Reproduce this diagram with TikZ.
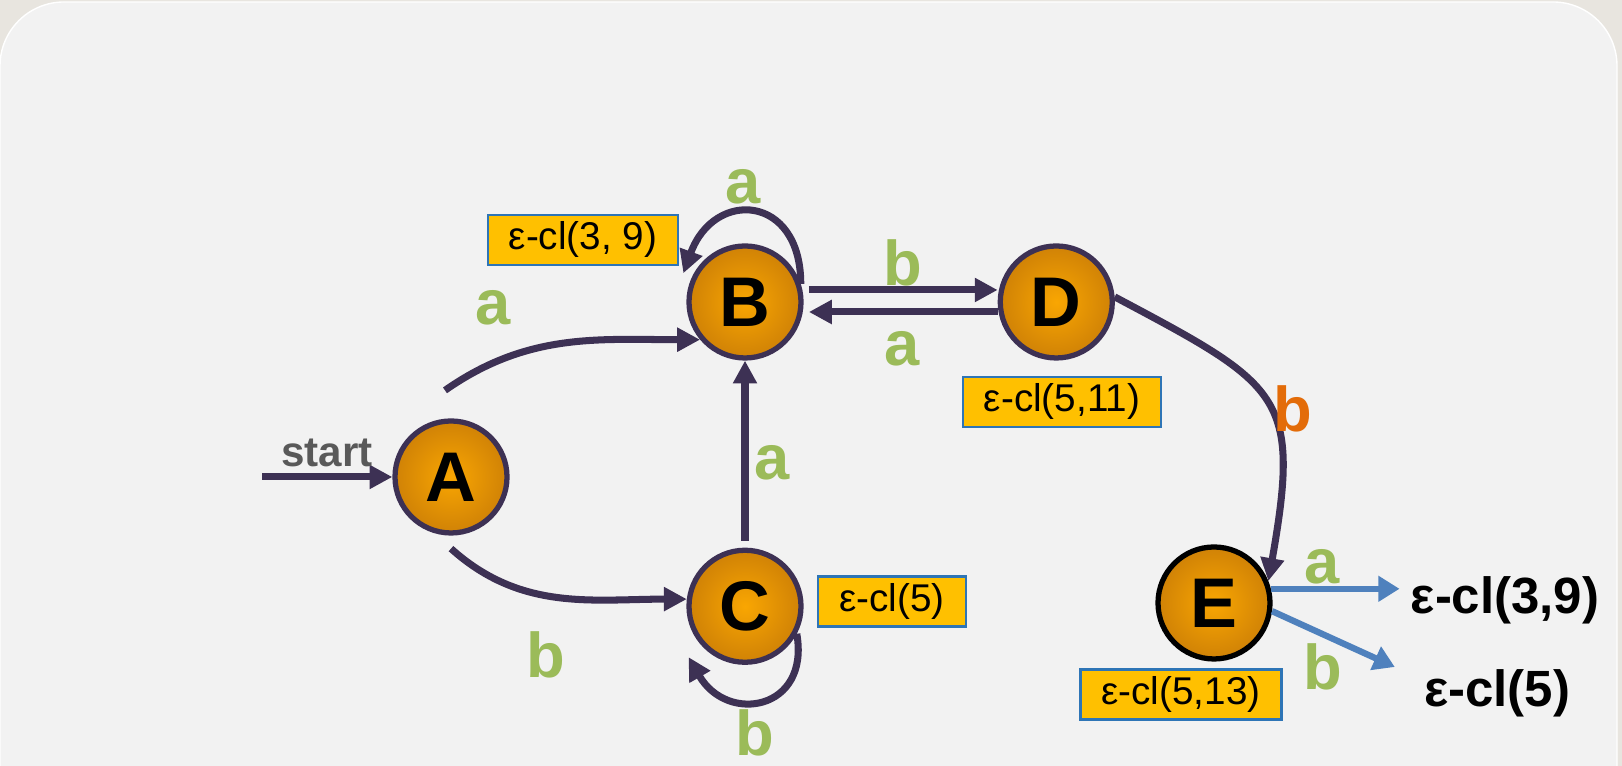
\documentclass[tikz,border=0pt]{standalone}
\usepackage{fontspec}
\setmainfont{Liberation Sans}
\usepackage{xcolor}
\usepackage{tikz}
\usetikzlibrary{arrows.meta, positioning, calc}
\definecolor{ink}{HTML}{3D3154}
\definecolor{symb}{HTML}{9BBB59}
\definecolor{symbo}{HTML}{E36C09}
\definecolor{move}{HTML}{4F81BD}
\definecolor{clfill}{HTML}{FFC000}
\definecolor{clline}{HTML}{2E75B6}
\definecolor{panel}{HTML}{F2F2F2}
\definecolor{paper}{HTML}{E8E5DF}
\definecolor{hot}{HTML}{F9A602}
\definecolor{warm}{HTML}{D08206}
\definecolor{startgray}{HTML}{595959}

\begin{document}
\begin{tikzpicture}[
    st/.style={circle, draw=ink, line width=1.5pt, inner color=hot, outer color=warm,
               minimum size=1.12cm, inner sep=0pt, font=\fontsize{20}{24}\selectfont\bfseries},
    cl/.style={rectangle, draw=clline, line width=0.6pt, fill=clfill, minimum height=0.5cm,
               inner xsep=0.21cm, inner ysep=0pt, font=\fontsize{11}{12}\selectfont},
    sym/.style={font=\fontsize{18}{20}\selectfont\bfseries, text=symb, inner sep=0pt},
    res/.style={font=\fontsize{14.5}{17}\selectfont\bfseries, inner sep=3pt},
    arr/.style={-{Triangle[length=6.5pt, width=6.5pt]}, line width=2pt, ink},
    barr/.style={-{Triangle[length=6pt, width=7pt]}, line width=1.8pt, move},
]
    \useasboundingbox (0,0) rectangle (16.22,7.66);
    \clip (0,0) rectangle (16.22,7.66);
    % backdrop
    \fill[paper] (0,0) rectangle (16.22,7.66);
    \fill[panel, draw=white, rounded corners=0.64cm] (0,-0.8) rectangle (16.17,7.64);

    % states
    \node[st] (A) at (4.51,2.89) {A};
    \node[st] (B) at (7.45,4.64) {B};
    \node[st, below=1.87cm of B] (C) {C};
    \node[st, right=1.94cm of B] (D) {D};
    \node[st, draw=black] (E) at (12.14,1.63) {E};

    % closures
    \node[cl] (clB) at (5.83,5.26) {ε-cl(3, 9)};
    \node[cl] (clD) at (10.62,3.64) {ε-cl(5,11)};
    \node[cl] (clC) at (8.92,1.645) {ε-cl(5)};
    \node[cl] (clE) at (11.81,0.715) {ε-cl(5,13)};

    % targets of E
    \node[res] (t39) at (15.05,1.66) {ε-cl(3,9)};
    \node[res] (t5) at (14.97,0.73) {ε-cl(5)};

    % transitions
    \coordinate (s0) at (2.62,2.89);
    \draw[arr] (s0) -- (A) node[midway, above=0pt, inner sep=2pt, text=startgray,
        font=\fontsize{12}{14}\selectfont\bfseries] (lst) {start};

    \coordinate (a0) at ($(A.north)+(-0.06,0.28)$);
    \coordinate (a1) at ($(A.south)+(0,-0.13)$);
    \draw[arr] (a0) to[out=35, in=180] (B.220);
    \draw[arr] (a1) to[out=-42, in=180] (C.173);
    \draw[arr, shorten <=2pt] (C) -- (B);

    \coordinate (b1) at ($(B.center)+(155:0.68)$);
    \coordinate (c1) at ($(C.center)+(222:0.76)$);
    \draw[arr] (B.18) to[out=90, in=70, looseness=1.95] (b1);
    \draw[arr] (C.-28) to[out=-80, in=-60, looseness=1.8] (c1);

    \draw[arr, shorten <=1.5pt] ([yshift=0.12cm]B.east) -- ([yshift=0.12cm]D.west);
    \draw[arr, shorten >=1.5pt] ([yshift=-0.1cm]D.west) -- ([yshift=-0.1cm]B.east);
    \draw[arr] (D.5) to[out=-28, in=80, looseness=1.5] (E.22);

    \coordinate (e5) at ($(t5.west)+(-0.18,0.26)$);
    \draw[barr] (E.14) -- (E.14 -| t39.west);
    \draw[barr] (E.-8) -- (e5);

    % symbols
    \node[sym] (lAB) at (4.93,4.58) {a};
    \node[sym] (lAC) at (5.46,1.11) {b};
    \node[sym] (lCB) at (7.72,3.03) {a};
    \node[sym] (lBB) at (7.43,5.79) {a};
    \node[sym] (lCC) at (7.55,0.33) {b};
    \node[sym] (lBD) at (9.03,5.03) {b};
    \node[sym] (lDB) at (9.02,4.17) {a};
    \node[sym, text=symbo] (lDE) at (12.93,3.57) {b};
    \node[sym] (lEa) at (13.22,1.99) {a};
    \node[sym] (lEb) at (13.23,0.99) {b};
\end{tikzpicture}
\end{document}
